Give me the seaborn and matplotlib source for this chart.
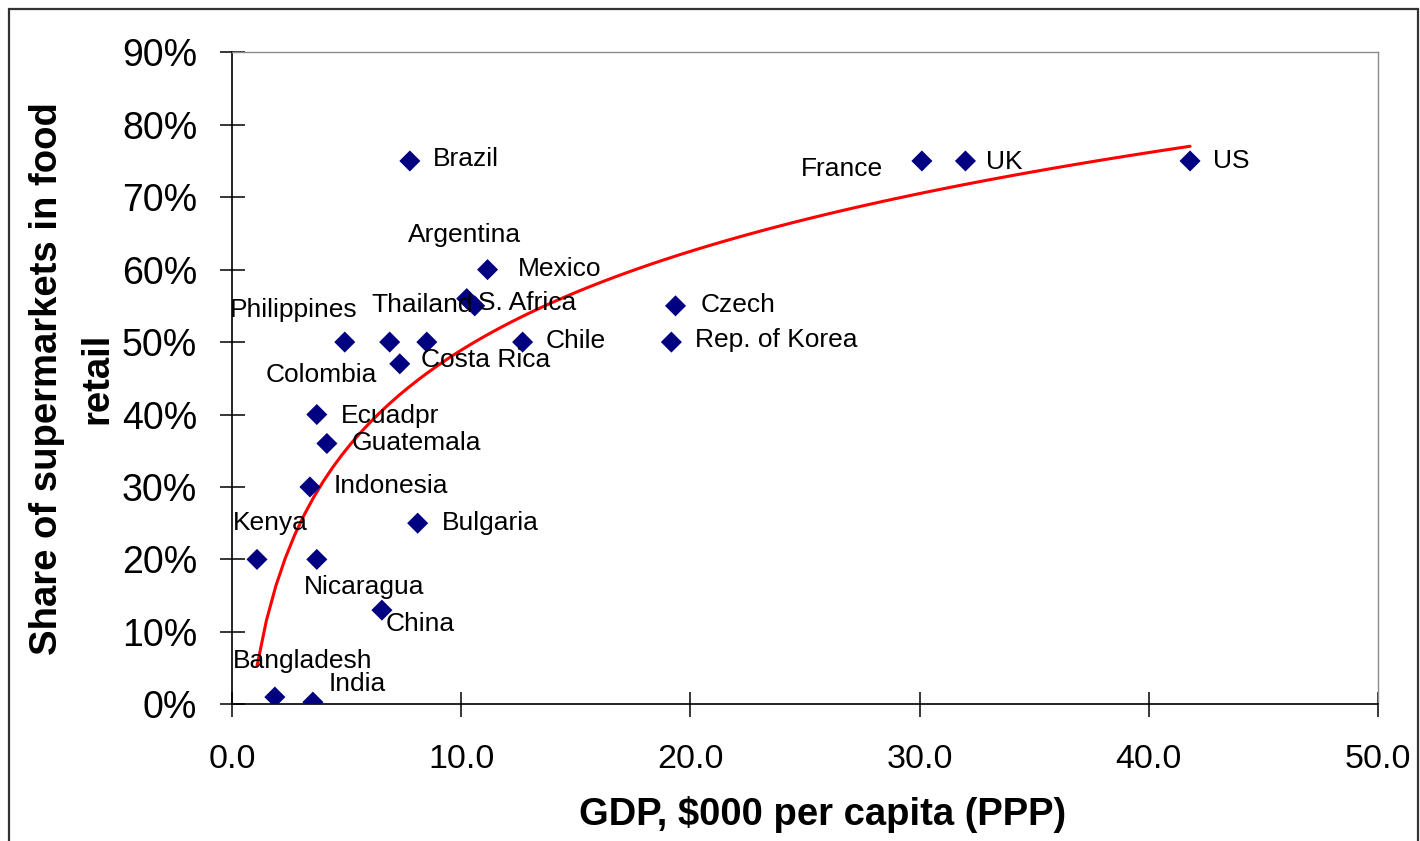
import matplotlib
matplotlib.use("Agg")
import matplotlib.pyplot as plt
from matplotlib.patches import Rectangle
from matplotlib.ticker import FuncFormatter
import seaborn as sns
import pandas as pd

# ---------------- data ----------------
countries = ["Brazil", "France", "UK", "US", "Mexico", "Argentina", "S. Africa",
             "Czech", "Philippines", "Colombia", "Thailand", "Chile", "Rep. of Korea",
             "Costa Rica", "Ecuadpr", "Guatemala", "Indonesia", "Bulgaria", "Kenya",
             "Nicaragua", "China", "Bangladesh", "India"]
gdp = [7.76, 30.1, 32.0, 41.8, 11.15, 10.24, 10.59,
       19.35, 4.92, 6.88, 8.5, 12.68, 19.17,
       7.32, 3.70, 4.14, 3.40, 8.10, 1.09,
       3.70, 6.54, 1.87, 3.53]
share = [75, 75, 75, 75, 60, 56, 55,
         55, 50, 50, 50, 50, 50,
         47, 40, 36, 30, 25, 20,
         20, 13, 1, 0.3]

x_ticks = [0, 10, 20, 30, 40, 50]
y_ticks = [0, 10, 20, 30, 40, 50, 60, 70, 80, 90]

# label placement (offset in pixels from the marker, alignment)
label_dx = [23, -39, 21, 23, 30, -59, 3,
            25, -115, -124, -55, 23, 24,
            21, 24, 25, 24, 24, -24,
            -13, 4, -42, 16]
label_dy = [-5, -15, -8, -7, -6, 57, -4,
            -6, 25, -40, 30, -6, -5,
            -3, -8, -7, -6, -7, 29,
            -35, -21, 29, 11]
label_ha = ["left", "right", "left", "left", "left", "left", "left",
            "left", "left", "left", "left", "left", "left",
            "left", "left", "left", "left", "left", "left",
            "left", "left", "left", "left"]

df = pd.DataFrame({"country": countries, "gdp": gdp, "share": share})

# ---------------- style ----------------
sns.set_theme(style="white")
plt.rcParams["font.family"] = ["Liberation Sans", "DejaVu Sans"]
plt.rcParams["text.color"] = "black"
plt.rcParams["axes.labelcolor"] = "black"
plt.rcParams["xtick.color"] = "black"
plt.rcParams["ytick.color"] = "black"

fig = plt.figure(figsize=(14.2, 8.41), dpi=100)
fig.patch.set_facecolor("white")
ax = fig.add_axes([232 / 1420, 1 - 704.3 / 841, (1378 - 232) / 1420, (704.3 - 52.3) / 841])

# figure frame
fig.add_artist(Rectangle((9 / 1420, -0.05), (1418 - 9) / 1420, 1 - 9 / 841 + 0.05,
                         transform=fig.transFigure, fill=False,
                         edgecolor="#333333", linewidth=1.6, zorder=0))

# trend line (logarithmic fit)
sns.regplot(data=df, x="gdp", y="share", logx=True, scatter=False, ci=None,
            color="red", line_kws={"linewidth": 2.2, "zorder": 2}, ax=ax)

# points
sns.scatterplot(data=df, x="gdp", y="share", marker="D", s=115, color="#000080",
                edgecolor="none", linewidth=0, ax=ax, zorder=3, legend=False)

for name, xv, yv, dx, dy, ha in zip(countries, gdp, share, label_dx, label_dy, label_ha):
    ax.annotate(name, (xv, yv), xytext=(dx, dy), textcoords="offset pixels",
                ha=ha, va="baseline", fontsize=19, color="black", zorder=4)

ax.set_xlim(0, 50)
ax.set_ylim(0, 90)
ax.set_xticks(x_ticks)
ax.set_yticks(y_ticks)
ax.xaxis.set_major_formatter(FuncFormatter(lambda v, p: f"{v:.1f}"))
ax.yaxis.set_major_formatter(FuncFormatter(lambda v, p: f"{v:.0f}%"))

ax.tick_params(axis="both", which="major", direction="inout", length=18, width=1.1,
               color="black", labelcolor="black", bottom=True, left=True,
               top=False, right=False)
ax.tick_params(axis="y", labelsize=27, pad=16)
ax.tick_params(axis="x", labelsize=24.5, pad=19.5)

for side in ["left", "bottom"]:
    ax.spines[side].set_color("black")
    ax.spines[side].set_linewidth(1.2)
for side in ["top", "right"]:
    ax.spines[side].set_color("#8c8c8c")
    ax.spines[side].set_linewidth(1.0)

ax.set_xlabel("GDP, $000 per capita (PPP)", fontsize=27.5, fontweight="bold", color="black")
ax.set_ylabel("Share of supermarkets in food\nretail", fontsize=27.5, fontweight="bold",
              linespacing=1.5, color="black")
ax.xaxis.set_label_coords(0.515, -0.14)
ax.yaxis.set_label_coords(-0.102, 0.5)
ax.grid(False)

fig.savefig("out.png", dpi=100, facecolor="white")
